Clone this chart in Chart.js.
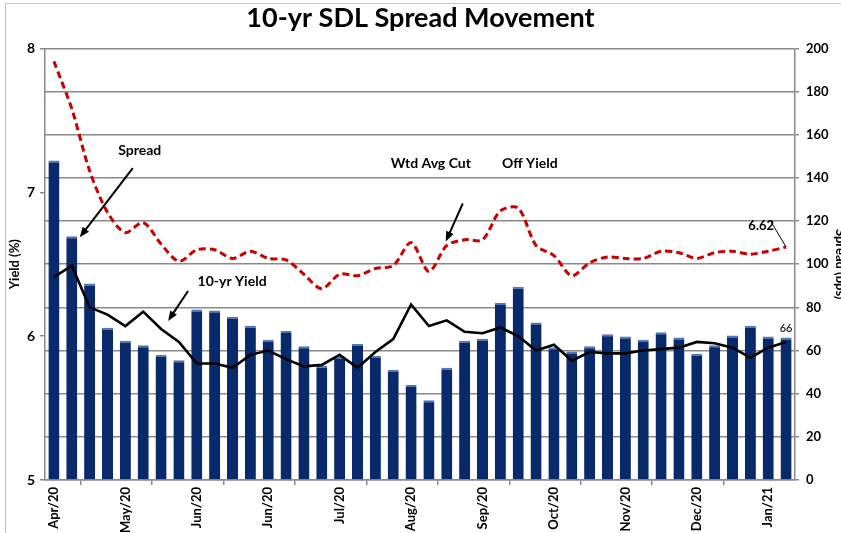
<!DOCTYPE html>
<html>
<head>
<meta charset="utf-8">
<script src="https://cdn.jsdelivr.net/npm/chart.js@4.4.1/dist/chart.umd.min.js"></script>
<style>
  html, body { margin: 0; padding: 0; background: #fff; }
</style>
</head>
<body>
<canvas id="myChart" width="841" height="533"></canvas>
<script>
// auction dates (weekly), only every 4th is shown on the axis
var labels = [
  'Apr/20', 'Apr/20', 'Apr/20', 'Apr/20', 'May/20', 'May/20', 'May/20', 'May/20',
  'Jun/20', 'Jun/20', 'Jun/20', 'Jun/20', 'Jun/20', 'Jul/20', 'Jul/20', 'Jul/20',
  'Jul/20', 'Aug/20', 'Aug/20', 'Aug/20', 'Aug/20', 'Sep/20', 'Sep/20', 'Sep/20',
  'Sep/20', 'Oct/20', 'Oct/20', 'Oct/20', 'Oct/20', 'Nov/20', 'Nov/20', 'Nov/20',
  'Nov/20', 'Dec/20', 'Dec/20', 'Dec/20', 'Dec/20', 'Jan/21', 'Jan/21', 'Jan/21',
  'Jan/21', 'Jan/21'
];

// spread in bps (right axis)
var spread = [
  148, 113, 91, 70.5, 64.5, 62.5, 58, 55.5, 79, 78.5, 75.5, 71.5, 65, 69,
  62, 53, 57, 63, 57.5, 51, 44, 37, 52, 64.5, 65.5, 82, 89.5, 73,
  61.5, 59.5, 62, 67.5, 66.5, 65, 68.5, 66, 58.5, 62.5, 67, 71.5, 66.5, 66
];

// 10-yr G-sec yield (%)
var tenYrYield = [
  6.41, 6.49, 6.20, 6.15, 6.07, 6.17, 6.05, 5.96, 5.81, 5.81, 5.78, 5.87, 5.90, 5.84,
  5.79, 5.80, 5.87, 5.78, 5.89, 5.98, 6.22, 6.07, 6.11, 6.03, 6.02, 6.06, 6.00, 5.90,
  5.94, 5.83, 5.89, 5.88, 5.88, 5.90, 5.91, 5.92, 5.96, 5.95, 5.92, 5.85, 5.92, 5.96
];

// weighted average cut off yield of 10-yr SDL (%)
var cutOffYield = [
  7.91, 7.58, 7.15, 6.86, 6.72, 6.79, 6.64, 6.52, 6.60, 6.60, 6.54, 6.59, 6.54, 6.53,
  6.43, 6.33, 6.43, 6.42, 6.47, 6.49, 6.65, 6.45, 6.63, 6.67, 6.67, 6.87, 6.89, 6.63,
  6.56, 6.42, 6.51, 6.55, 6.54, 6.54, 6.59, 6.58, 6.54, 6.58, 6.59, 6.57, 6.59, 6.62
];

var FONT = 'Lato';
var GRID = '#8a8a8a';

function arrow(c, x1, y1, x2, y2) {
  var a = Math.atan2(y2 - y1, x2 - x1);
  c.lineWidth = 2;
  c.beginPath();
  c.moveTo(x1, y1);
  c.lineTo(x2 - 7 * Math.cos(a), y2 - 7 * Math.sin(a));
  c.stroke();
  c.beginPath();
  c.moveTo(x2, y2);
  c.lineTo(x2 - 10 * Math.cos(a) + 4 * Math.sin(a), y2 - 10 * Math.sin(a) - 4 * Math.cos(a));
  c.lineTo(x2 - 10 * Math.cos(a) - 4 * Math.sin(a), y2 - 10 * Math.sin(a) + 4 * Math.cos(a));
  c.closePath();
  c.fill();
}

// frame round the chart
var frame = {
  id: 'frame',
  beforeDraw: function(chart) {
    var c = chart.ctx;
    c.save();
    c.strokeStyle = '#c4c4c4';
    c.lineWidth = 1;
    c.strokeRect(5.5, 3.5, 1000, 1000);
    c.restore();
  }
};

// call-outs tied to the data points
var notes = {
  id: 'notes',
  afterDatasetsDraw: function(chart) {
    var c = chart.ctx;
    var x = chart.scales.x, yl = chart.scales.y, yr = chart.scales.y1;
    c.save();
    c.fillStyle = '#000';
    c.strokeStyle = '#000';
    c.textAlign = 'center';
    c.textBaseline = 'middle';
    c.font = 'bold 14px ' + FONT;

    // Spread -> second bar
    var px = x.getPixelForValue(1), py = yr.getPixelForValue(spread[1]);
    arrow(c, px + 61, py - 68, px + 8, py + 1);
    c.fillText('Spread', px + 68, py - 86);

    // 10-yr Yield -> black line
    px = x.getPixelForValue(6); py = yl.getPixelForValue(tenYrYield[6]);
    arrow(c, px + 27, py - 38, px + 7, py - 8);
    c.fillText('10-yr Yield', px + 71, py - 47);

    // Wtd Avg Cut Off Yield -> red line
    px = x.getPixelForValue(22); py = yl.getPixelForValue(cutOffYield[22]);
    arrow(c, px + 16, py - 42, px - 1, py - 4);
    c.fillText('Wtd Avg Cut', px - 16, py - 82);
    c.fillText('Off Yield', px + 83, py - 82);

    // last cut off value
    var n = cutOffYield.length - 1;
    px = x.getPixelForValue(n); py = yl.getPixelForValue(cutOffYield[n]);
    c.lineWidth = 1;
    c.beginPath();
    c.moveTo(px, py);
    c.lineTo(px - 15, py - 25);
    c.stroke();
    c.textAlign = 'right';
    c.font = 'bold 13px ' + FONT;
    c.fillText(cutOffYield[n].toFixed(2), px - 12, py - 21);

    // last spread value
    py = yr.getPixelForValue(spread[n]);
    c.textAlign = 'center';
    c.font = '600 11px ' + FONT;
    c.fillStyle = '#222';
    c.fillText(String(spread[n]), px, py - 9);
    c.restore();
  }
};

var ctx = document.getElementById('myChart').getContext('2d');

var myChart = new Chart(ctx, {
  type: 'bar',
  data: {
    labels: labels,
    datasets: [{
      type: 'line',
      label: 'Wtd Avg Cut Off Yield',
      data: cutOffYield,
      yAxisID: 'y',
      borderColor: '#c80000',
      borderWidth: 3,
      borderDash: [7, 4],
      tension: 0.3,
      pointRadius: 0,
      fill: false,
      order: 1
    }, {
      type: 'line',
      label: '10-yr Yield',
      data: tenYrYield,
      yAxisID: 'y',
      borderColor: '#000',
      borderWidth: 2.6,
      tension: 0,
      pointRadius: 0,
      fill: false,
      order: 2
    }, {
      type: 'bar',
      label: 'Spread',
      data: spread,
      yAxisID: 'y1',
      backgroundColor: '#082a6b',
      borderColor: '#5676b0',
      borderWidth: { top: 2, right: 0, bottom: 0, left: 0 },
      barPercentage: 0.62,
      categoryPercentage: 1,
      order: 3
    }]
  },
  options: {
    responsive: false,
    animation: false,
    devicePixelRatio: 1,
    layout: { padding: 0 },
    plugins: {
      legend: { display: false },
      tooltip: { enabled: false },
      title: {
        display: true,
        text: '10-yr SDL Spread Movement',
        color: '#000',
        font: { family: FONT, size: 27, weight: 'bold' },
        padding: { top: 2, bottom: 14 }
      }
    },
    scales: {
      x: {
        offset: true,
        grid: {
          offset: true,
          drawOnChartArea: false,
          tickLength: 5,
          lineWidth: 1.5,
          color: function(c) { return c.index % 4 === 2 ? GRID : 'rgba(0,0,0,0)'; }
        },
        border: { color: GRID, width: 1.5 },
        ticks: {
          autoSkip: false,
          maxRotation: 90,
          minRotation: 90,
          padding: 2,
          color: '#000',
          font: { family: FONT, size: 13, weight: 'bold' },
          callback: function(v, i) { return i % 4 === 0 ? labels[i] : ''; }
        },
        afterFit: function(s) { s.height = 53; }
      },
      y: {
        position: 'left',
        min: 5,
        max: 8,
        ticks: {
          stepSize: 1,
          padding: 5,
          color: '#000',
          font: { family: FONT, size: 14, weight: 'bold' }
        },
        grid: { drawOnChartArea: false, tickLength: 5, color: GRID, lineWidth: 1.5 },
        border: { color: GRID, width: 1.5 },
        title: {
          display: true,
          text: 'Yield (%)',
          color: '#000',
          font: { family: FONT, size: 13, weight: 'bold' },
          padding: { top: 7, bottom: 0 }
        },
        afterFit: function(s) { s.width = 45; }
      },
      y1: {
        position: 'right',
        min: 0,
        max: 200,
        ticks: {
          stepSize: 20,
          padding: 7,
          color: '#000',
          font: { family: FONT, size: 13, weight: 'bold' }
        },
        grid: { drawOnChartArea: true, tickLength: 4, color: GRID, lineWidth: 1.5 },
        border: { color: GRID, width: 1.5 },
        title: {
          display: true,
          text: 'Spread (bps)',
          color: '#000',
          font: { family: FONT, size: 13, weight: 'bold' },
          padding: { top: -7, bottom: 0 }
        },
        afterFit: function(s) { s.width = 46; }
      }
    }
  },
  plugins: [frame, notes]
});
</script>
</body>
</html>
